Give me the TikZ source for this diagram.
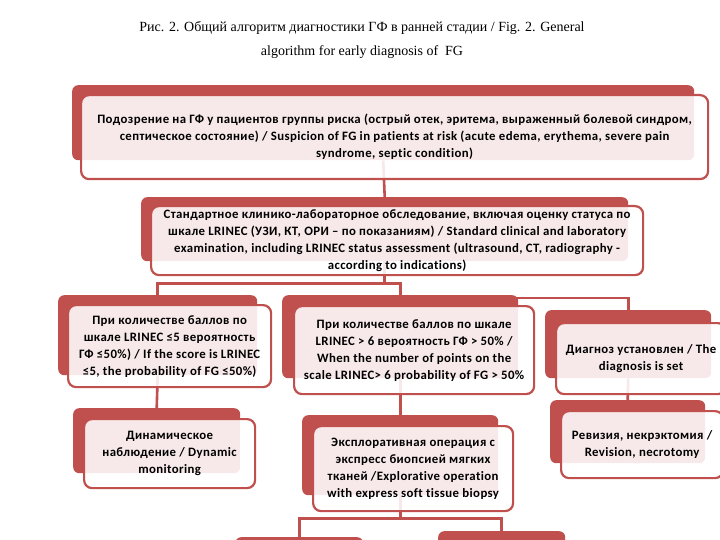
\documentclass[tikz,border=0pt]{standalone}
\usepackage{fontspec}
\setmainfont{Liberation Serif}
\newfontfamily\boxfont{Carlito}[LetterSpace=3.0,Ligatures=NoCommon]
\usepackage{tikz}
\definecolor{boxred}{HTML}{C0504D}

\begin{document}
\begin{tikzpicture}[x=1pt,y=-1pt,
	back/.style={fill=boxred,rounded corners=6pt,anchor=north west,inner sep=0pt},
	front/.style={draw=boxred,line width=2.2pt,fill=white,fill opacity=.88,text opacity=1,rounded corners=8pt,anchor=north west,inner sep=0pt,align=center,font=\boxfont\bfseries\fontsize{12.8}{17}\selectfont},
	link/.style={draw=boxred,line width=2.6pt}]
	
	\fill[white] (0,0) rectangle (720,540);
	\useasboundingbox (0,0) rectangle (720,540);
	\clip (0,0) rectangle (720,540);
	
	\node[align=center,font=\fontsize{14}{24}\selectfont] (title) at (362,40) {Рис. 2. Общий алгоритм диагностики ГФ в ранней стадии / Fig. 2. General\\ algorithm for early diagnosis of~ FG};
	
	% back boxes
	\node[back,minimum width=622pt,minimum height=75pt] (suspB) at (72,85) {};
	\node[back,minimum width=487pt,minimum height=64pt] (stdB) at (141,197) {};
	\node[back,minimum width=199pt,minimum height=80pt] (leB) at (58,295) {};
	\node[back,minimum width=236pt,minimum height=83pt] (hiB) at (282,295) {};
	\node[back,minimum width=166pt,minimum height=68pt] (diagB) at (545,310) {};
	\node[back,minimum width=167pt,minimum height=65pt] (dynB) at (73,408) {};
	\node[back,minimum width=196pt,minimum height=80pt] (opB) at (302,415) {};
	\node[back,minimum width=155pt,minimum height=63pt] (revB) at (550,400) {};
	\node[back,minimum width=128pt,minimum height=60pt] (botlB) at (235,537) {};
	\node[back,minimum width=127pt,minimum height=60pt] (botrB) at (438,531) {};
	
	% connectors
	\draw[link] (suspB.south) -- (stdB.north);
	\draw[link] (stdB.south) -- ++(0,22) coordinate (fork2);
	\draw[link] (leB.north) |- (fork2) -| (hiB.north);
	\draw[link] ([yshift=-3pt]hiB.north) -| (diagB.north);
	\draw[link] (leB.south) -- (dynB.north);
	\draw[link] (hiB.south) -- (opB.north);
	\draw[link] (diagB.south) -- (revB.north);
	\draw[link] (opB.south) -- ++(0,23) coordinate (fork7);
	\draw[link] (botlB.north) |- (fork7) -| (botrB.north);
	
	% front boxes
	\node[front,minimum width=627pt,minimum height=84pt] (susp) at (80,94) {Подозрение на ГФ у пациентов группы риска (острый отек, эритема, выраженный болевой синдром,\\ септическое состояние) / Suspicion of FG in patients at risk (acute edema, erythema, severe pain\\ syndrome, septic condition)};
	\node[front,minimum width=492pt,minimum height=69pt] (std) at (150,205) {Стандартное клинико-лабораторное обследование, включая оценку статуса по\\ шкале LRINEC (УЗИ, КТ, ОРИ – по показаниям) / Standard clinical and laboratory\\ examination, including LRINEC status assessment (ultrasound, CT, radiography -\\ according to indications)};
	\node[front,minimum width=203pt,minimum height=82pt] (le) at (67,304) {При количестве баллов по\\ шкале LRINEC ≤5 вероятность\\ ГФ ≤50\%) / If the score is LRINEC\\ ≤5, the probability of FG ≤50\%)};
	\node[front,minimum width=240pt,minimum height=88pt] (hi) at (293,305) {При количестве баллов по шкале\\ LRINEC > 6 вероятность ГФ > 50\% /\\ When the number of points on the\\ scale LRINEC> 6 probability of FG > 50\%};
	\node[front,minimum width=170pt,minimum height=71pt] (diag) at (555,322) {Диагноз установлен / The\\ diagnosis is set};
	\node[front,minimum width=171pt,minimum height=69pt] (dyn) at (83,418) {Динамическое\\ наблюдение / Dynamic\\ monitoring};
	\node[front,minimum width=200pt,minimum height=85pt] (op) at (312,425) {Эксплоративная операция с\\ экспресс биопсией мягких\\ тканей /Explorative operation\\ with express soft tissue biopsy};
	\node[front,minimum width=162pt,minimum height=67pt] (rev) at (560,410) {Ревизия, некрэктомия /\\ Revision, necrotomy};
	
\end{tikzpicture}
\end{document}
